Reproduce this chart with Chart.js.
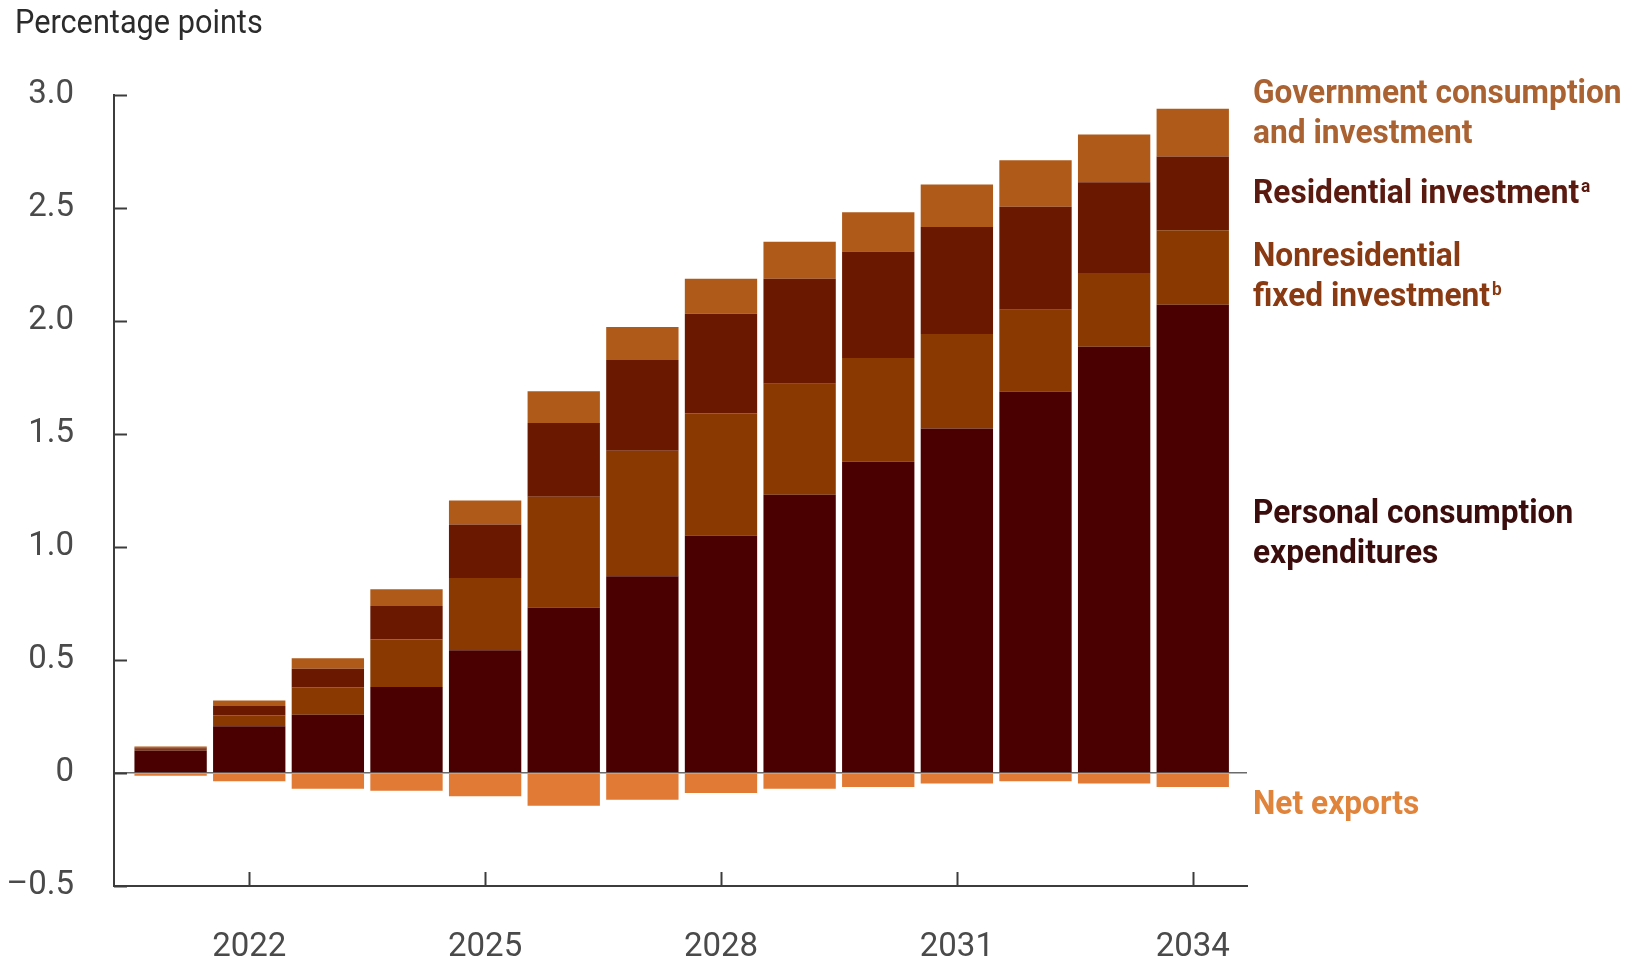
<!DOCTYPE html>
<html>
<head>
<meta charset="utf-8">
<script src="https://cdn.jsdelivr.net/npm/chart.js@4.4.1/dist/chart.umd.min.js"></script>
<style>
  html, body { margin: 0; padding: 0; background: #fff; }
  #wrap { width: 1630px; height: 967px; }
</style>
</head>
<body>
<div id="wrap"><canvas id="chart" width="1630" height="967"></canvas></div>
<script>
// contributions to GDP growth, percentage points
const years = [2021, 2022, 2023, 2024, 2025, 2026, 2027, 2028, 2029, 2030, 2031, 2032, 2033, 2034];
const personalConsumption = [0.100, 0.207, 0.258, 0.380, 0.543, 0.732, 0.871, 1.051, 1.231, 1.377, 1.524, 1.688, 1.886, 2.072];
const nonresidentialInvestment = [0.007, 0.049, 0.121, 0.211, 0.320, 0.490, 0.555, 0.541, 0.491, 0.459, 0.418, 0.362, 0.326, 0.329];
const residentialInvestment = [0.005, 0.041, 0.082, 0.148, 0.237, 0.327, 0.401, 0.440, 0.465, 0.472, 0.474, 0.456, 0.402, 0.327];
const governmentSpending = [0.005, 0.024, 0.047, 0.074, 0.106, 0.140, 0.147, 0.155, 0.164, 0.173, 0.188, 0.205, 0.211, 0.211];
const netExports = [-0.012, -0.037, -0.070, -0.078, -0.103, -0.145, -0.118, -0.088, -0.070, -0.062, -0.047, -0.037, -0.047, -0.062];

const xTickYears = [2022, 2025, 2028, 2031, 2034];
const yTickValues = [-0.5, 0, 0.5, 1.0, 1.5, 2.0, 2.5, 3.0];
const yTickLabels = ["\u20130.5", "0", "0.5", "1.0", "1.5", "2.0", "2.5", "3.0"];

const FONT = 'Roboto, "Liberation Sans", sans-serif';

// series labels drawn at the right of the bars
const seriesLabels = [
  { lines: ["Government consumption", "and investment"], sup: "", color: "#ab6232", y: 103 },
  { lines: ["Residential investment"], sup: "a", color: "#5b1a10", y: 203 },
  { lines: ["Nonresidential", "fixed investment"], sup: "b", color: "#8a3a12", y: 266 },
  { lines: ["Personal consumption", "expenditures"], sup: "", color: "#3a0c0c", y: 523 },
  { lines: ["Net exports"], sup: "", color: "#e0843c", y: 814 }
];

const labelsPlugin = {
  id: "labelsPlugin",
  afterDraw(chart) {
    const ctx = chart.ctx;
    const { left, bottom } = chart.chartArea;
    const x = chart.scales.x, y = chart.scales.y;
    ctx.save();

    // ticks point inward
    ctx.strokeStyle = "#3c3c3c";
    ctx.lineWidth = 2;
    yTickValues.forEach(v => {
      const py = Math.round(y.getPixelForValue(v)) + 0.5;
      ctx.beginPath();
      ctx.moveTo(left, py);
      ctx.lineTo(left + 13, py);
      ctx.stroke();
    });
    xTickYears.forEach(v => {
      const px = Math.round(x.getPixelForValue(v)) + 0.5;
      ctx.beginPath();
      ctx.moveTo(px, bottom);
      ctx.lineTo(px, bottom - 14);
      ctx.stroke();
    });

    ctx.textBaseline = "alphabetic";

    // axis title
    ctx.save();
    ctx.translate(15, 33);
    ctx.scale(0.93, 1);
    ctx.fillStyle = "#2b2b2b";
    ctx.font = "33px " + FONT;
    ctx.fillText("Percentage points", 0, 0);
    ctx.restore();

    // series labels
    seriesLabels.forEach(s => {
      s.lines.forEach((line, i) => {
        ctx.save();
        ctx.translate(1253, s.y + i * 40);
        ctx.scale(0.96, 1);
        ctx.fillStyle = s.color;
        ctx.font = "bold 33px " + FONT;
        ctx.fillText(line, 0, 0);
        if (s.sup && i === s.lines.length - 1) {
          const w = ctx.measureText(line).width;
          ctx.font = "bold 18px " + FONT;
          ctx.fillText(s.sup, w + 2, -11);
        }
        ctx.restore();
      });
    });
    ctx.restore();
  }
};

function ds(label, data, color) {
  return {
    label: label,
    data: data,
    backgroundColor: color,
    borderWidth: 0,
    barPercentage: 0.92,
    categoryPercentage: 1.0
  };
}

new Chart(document.getElementById("chart"), {
  type: "bar",
  data: {
    labels: years,
    datasets: [
      ds("Personal consumption expenditures", personalConsumption, "#4a0000"),
      ds("Nonresidential fixed investment", nonresidentialInvestment, "#8a3a00"),
      ds("Residential investment", residentialInvestment, "#6b1800"),
      ds("Government consumption and investment", governmentSpending, "#b05a1a"),
      ds("Net exports", netExports, "#e07a35")
    ]
  },
  options: {
    responsive: false,
    animation: false,
    layout: { padding: { top: 95, right: 383, left: 0, bottom: 0 } },
    plugins: {
      legend: { display: false },
      tooltip: { enabled: false },
      title: { display: false }
    },
    scales: {
      x: {
        type: "linear",
        stacked: true,
        offset: false,
        min: 2020.28,
        max: 2034.69,
        afterBuildTicks: s => { s.ticks = xTickYears.map(v => ({ value: v })); },
        afterFit: s => { s.height = 81; },
        grid: { display: false, drawTicks: false, offset: false },
        border: { display: true, color: "#3c3c3c", width: 2 },
        ticks: {
          padding: 42,
          color: "#4a4a4a",
          font: { family: FONT, size: 33 },
          maxRotation: 0,
          autoSkip: false,
          callback: v => String(v)
        }
      },
      y: {
        stacked: true,
        min: -0.5,
        max: 3.0,
        afterBuildTicks: s => { s.ticks = yTickValues.map(v => ({ value: v })); },
        afterFit: s => { s.width = 114; },
        grid: {
          drawTicks: false,
          lineWidth: 1.5,
          color: c => (c.tick && c.tick.value === 0 ? "#6b6b6b" : "rgba(0,0,0,0)")
        },
        border: { display: true, color: "#3c3c3c", width: 2 },
        ticks: {
          padding: 40,
          color: "#4a4a4a",
          font: { family: FONT, size: 33 },
          callback: v => yTickLabels[yTickValues.indexOf(v)]
        }
      }
    }
  },
  plugins: [labelsPlugin]
});
</script>
</body>
</html>
